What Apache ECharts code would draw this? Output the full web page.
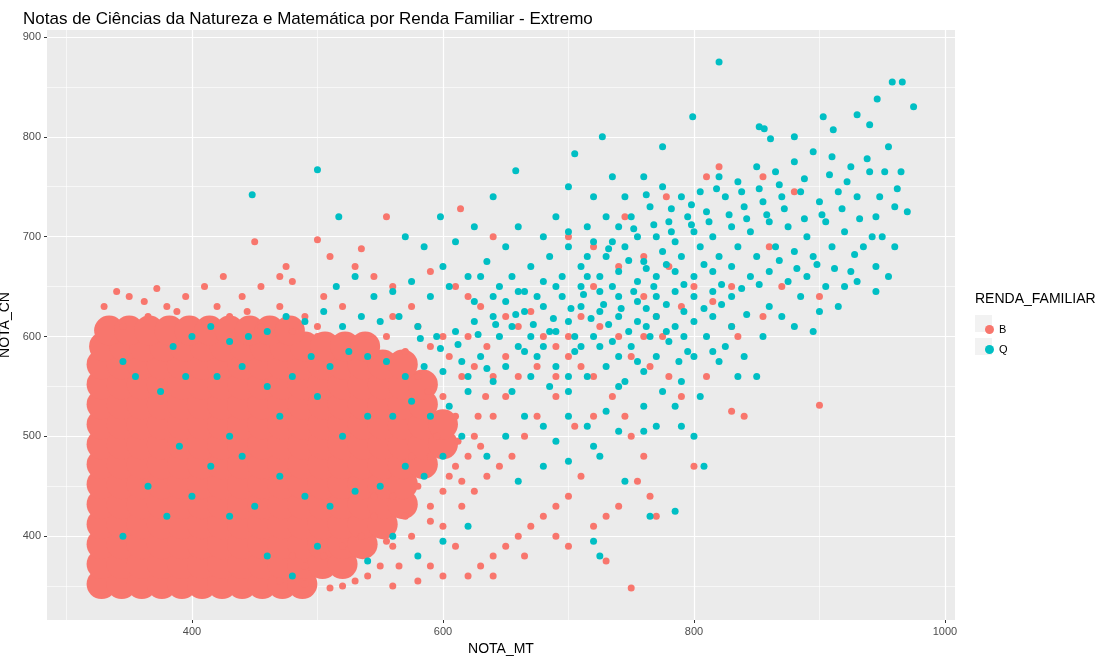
<!DOCTYPE html>
<html><head><meta charset="utf-8">
<script src="https://cdn.jsdelivr.net/npm/echarts@6/dist/echarts.min.js"></script>
<style>html,body{margin:0;padding:0;background:#fff}#c{width:1105px;height:663px}</style>
</head><body><div id="c"></div>
<script>
const xTicks=[400,600,800,1000];
const xMinor=[300,500,700,900];
const yTicks=[400,500,600,700,800,900];
const yMinor=[350,450,550,650,750,850];
// dense core of group B, rows of [NOTA_CN, NOTA_MT values...]
const bCoreRows=[
[352,328,344,360,376,392,408,424,440,456,472,488],
[372,328,344,360,376,392,408,424,440,456,472,488,504,520],
[392,328,344,360,376,392,408,424,440,456,472,488,504,520,536],
[412,328,344,360,376,392,408,424,440,456,472,488,504,520,536,552],
[432,328,344,360,376,392,408,424,440,456,472,488,504,520,536,552,568],
[452,328,344,360,376,392,408,424,440,456,472,488,504,520,536,552,568],
[472,328,344,360,376,392,408,424,440,456,472,488,504,520,536,552,568,584],
[492,328,344,360,376,392,408,424,440,456,472,488,504,520,536,552,568,584,600],
[512,328,344,360,376,392,408,424,440,456,472,488,504,520,536,552,568,584,600],
[532,328,344,360,376,392,408,424,440,456,472,488,504,520,536,552,568,584],
[552,328,344,360,376,392,408,424,440,456,472,488,504,520,536,552,568,584],
[572,328,344,360,376,392,408,424,440,456,472,488,504,520,536,552,568],
[590,330,346,362,378,394,410,426,442,458,474,490,506,522,538],
[606,334,350,366,382,398,414,430,446,462,478]
];
const bFringe=[[900,531],[450,695],[500,697],[555,720],[614,728],[535,688],[640,700],[700,700],[720,690],[745,720],[778,740],[810,760],[820,770],[855,760],[880,745],[720,650],[760,640],[790,630],[770,620],[830,650],[860,690],[870,650],[900,640],[855,620],[835,600],[810,560],[790,540],[830,525],[840,520],[800,470],[830,610],[560,650],[545,660],[530,670],[590,665],[610,650],[620,640],[630,630],[650,620],[660,610],[670,625],[680,600],[690,590],[700,580],[710,570],[720,560],[735,540],[745,520],[750,500],[760,480],[755,455],[765,440],[770,420],[740,430],[730,420],[720,410],[710,460],[700,440],[690,430],[680,420],[670,410],[660,400],[650,390],[640,380],[630,370],[620,360],[610,390],[600,410],[590,430],[580,450],[570,420],[560,390],[550,370],[540,360],[530,355],[520,350],[510,348],[490,352],[470,355],[750,348],[730,375],[700,390],[690,400],[720,520],[705,510],[690,540],[675,520],[665,500],[655,480],[645,470],[635,460],[625,445],[615,430],[605,460],[595,500],[610,520],[625,500],[640,520],[650,540],[660,560],[675,570],[690,560],[700,600],[710,620],[725,610],[740,600],[750,580],[765,570],[780,560],[760,600],[775,600],[740,670],[760,680],[780,670],[800,650],[815,635],[650,580],[635,590],[620,600],[600,600],[590,590],[580,610],[575,630],[560,620],[540,600],[520,630],[505,640],[490,620],[470,630],[455,650],[440,640],[425,660],[410,650],[395,640],[380,630],[365,620],[350,640],[340,645],[330,630],[345,610],[470,660],[480,655],[510,680],[475,670],[455,610],[430,620],[410,615],[580,560],[600,540],[615,560],[625,570],[640,560],[590,480],[575,480],[560,440],[545,420],[535,400],[520,390],[505,380],[490,370],[480,380],[600,360],[580,355],[560,350],[640,360],[665,380],[590,370],[610,470],[620,480],[630,490],[615,455],[600,445],[590,415],[575,400],[565,370],[555,395],[545,440],[612,495],[628,520],[634,540],[605,580],[588,545],[570,585],[555,600],[520,600],[500,610],[362,635],[372,648],[388,625],[420,630],[444,625],[500,600],[480,605]];
const qPoints=[[820,875],[958,855],[966,855],[946,838],[975,830],[500,767],[448,742],[517,720],[598,720],[705,783],[658,766],[640,740],[727,800],[775,790],[799,820],[852,810],[930,822],[940,812],[911,807],[903,820],[880,800],[861,798],[856,808],[760,760],[775,750],[790,740],[805,745],[820,760],[835,755],[850,770],[865,765],[880,775],[895,785],[910,780],[925,770],[940,765],[955,790],[965,765],[970,725],[960,730],[945,720],[930,740],[915,745],[900,735],[885,745],[870,740],[855,735],[840,730],[825,740],[810,725],[795,720],[780,715],[765,730],[750,720],[740,710],[755,700],[770,700],[785,695],[800,705],[815,700],[830,710],[845,705],[860,715],[875,710],[890,700],[905,715],[920,705],[935,690],[950,700],[960,690],[945,670],[925,665],[910,690],[895,680],[880,685],[865,690],[850,680],[835,690],[820,680],[805,690],[790,680],[775,685],[760,675],[745,690],[730,680],[720,695],[710,670],[725,660],[740,665],[755,655],[770,660],[785,665],[800,660],[815,665],[830,670],[845,660],[860,665],[875,655],[890,660],[905,650],[920,650],[830,640],[815,645],[800,640],[785,645],[770,640],[755,635],[740,640],[725,645],[710,650],[695,660],[680,655],[665,645],[650,635],[665,625],[680,630],[695,640],[710,630],[725,625],[740,620],[755,615],[770,620],[785,610],[800,615],[815,620],[830,610],[700,615],[685,605],[670,600],[655,610],[640,620],[625,615],[610,605],[595,600],[580,610],[565,620],[550,615],[535,620],[520,610],[505,625],[490,615],[475,620],[460,605],[445,600],[430,595],[415,610],[400,600],[385,590],[640,640],[625,635],[655,660],[670,670],[685,680],[700,690],[715,710],[730,720],[745,740],[700,705],[680,700],[660,710],[690,720],[720,740],[735,760],[700,750],[715,680],[735,695],[650,690],[635,675],[620,660],[605,650],[590,640],[575,655],[560,645],[545,640],[530,660],[515,650],[600,670],[585,690],[610,695],[625,710],[570,700],[645,600],[660,590],[675,580],[690,570],[705,585],[720,600],[735,595],[750,590],[765,600],[780,595],[795,585],[810,600],[825,590],[840,580],[850,560],[855,600],[860,630],[870,620],[885,640],[900,625],[915,630],[930,655],[945,645],[955,660],[880,610],[895,605],[630,580],[615,575],[600,565],[585,570],[570,560],[555,575],[540,580],[525,585],[510,570],[495,580],[480,560],[460,550],[440,570],[420,560],[395,560],[375,545],[355,560],[345,575],[620,545],[605,530],[590,520],[575,535],[560,520],[640,555],[655,545],[670,560],[685,550],[700,545],[715,560],[730,570],[745,555],[760,565],[775,545],[790,555],[805,540],[820,575],[835,560],[700,520],[715,510],[730,525],[740,550],[760,530],[785,530],[800,500],[770,510],[720,490],[725,480],[690,495],[680,510],[665,520],[650,500],[635,480],[615,500],[600,480],[585,460],[570,470],[550,450],[530,445],[510,430],[490,440],[470,460],[450,430],[430,420],[415,470],[400,440],[380,420],[365,450],[345,400],[700,475],[720,395],[725,380],[745,455],[765,420],[785,425],[808,470],[790,510],[760,505],[740,505],[660,455],[680,470],[620,410],[600,395],[580,380],[560,400],[540,375],[500,390],[480,360],[460,380],[430,500],[520,500],[540,520],[500,540],[470,520],[440,480],[390,490],
[732,688],[748,676],[762,668],[778,672],[792,652],[808,672],[822,652],[838,648],[852,652],[868,676],[882,668],[898,672],[912,668],[928,682],[942,700],[752,708],[768,712],[782,705],[798,712],[812,715],[828,722],[842,718],[858,722],[872,728],[888,718],[902,722],[918,728],[932,718],[948,740],[962,748],[762,742],[782,728],[798,732],[818,748],[838,745],[852,748],[868,752],[888,758],[908,762],[922,755],[938,778],[952,765],[712,642],[728,632],[742,628],[762,628],[778,632],[792,625],[808,628],[822,632],[842,622],[688,618],[702,628],[718,618],[732,612],[748,605],[762,610],[778,605],[792,600],[672,612],[658,622],[642,612],[628,602],[612,592],[598,588],[582,598],[690,650],[675,640],[660,645],[645,650],[630,660],[715,660],[735,650],[752,645],[768,650],[705,600],[690,605],[680,590],[665,585],[650,570],[635,568],[620,560],[700,560],[710,590],[725,590],[740,580],[755,575],[770,580],[788,575],[800,580],[815,585]];

const bCore=[];
bCoreRows.forEach(r=>{for(let i=1;i<r.length;i++)bCore.push([r[i],r[0]]);});
const ml=(axis,vals,w)=>vals.map(v=>({[axis]:v,lineStyle:{color:'#fff',width:w,type:'solid'}}));
const chart=echarts.init(document.getElementById('c'));
chart.setOption({
  animation:false,
  title:{text:'Notas de Ciências da Natureza e Matemática por Renda Familiar - Extremo',left:18,top:6,textStyle:{fontFamily:'Liberation Sans',fontSize:17,fontWeight:'normal',color:'#000'}},
  grid:{left:47,right:150,top:30,bottom:43,show:true,backgroundColor:'#EBEBEB',borderWidth:0,containLabel:false,outerBoundsMode:'none'},
  legend:{orient:'vertical',left:980,top:319,itemGap:9,itemWidth:9,itemHeight:9,icon:'circle',data:['B','Q'],textStyle:{fontFamily:'Liberation Sans',fontSize:11,color:'#000'}},
  xAxis:{type:'value',min:284.5,max:1008,name:'NOTA_MT',nameLocation:'middle',nameGap:21,nameTextStyle:{fontFamily:'Liberation Sans',fontSize:14,color:'#000'},
    splitLine:{show:false},axisLine:{show:false},
    axisTick:{show:true,length:3,lineStyle:{color:'#333'},customValues:xTicks},
    axisLabel:{customValues:xTicks,formatter:v=>String(v),color:'#4d4d4d',fontFamily:'Liberation Sans',fontSize:11,margin:6}},
  yAxis:{type:'value',min:316,max:907,name:'NOTA_CN',nameLocation:'middle',nameGap:33,nameTextStyle:{fontFamily:'Liberation Sans',fontSize:14,color:'#000'},
    splitLine:{show:false},axisLine:{show:false},
    axisTick:{show:true,length:3,lineStyle:{color:'#333'},customValues:yTicks},
    axisLabel:{customValues:yTicks,formatter:v=>String(v),color:'#4d4d4d',fontFamily:'Liberation Sans',fontSize:11,margin:6}},
  graphic:[
    {type:'text',left:975,top:292,style:{text:'RENDA_FAMILIAR',font:'14px Liberation Sans',fill:'#000'}},
    {type:'rect',shape:{x:975,y:315,width:17,height:17},style:{fill:'#F2F2F2'},z:-1},
    {type:'rect',shape:{x:975,y:338,width:17,height:17},style:{fill:'#F2F2F2'},z:-1}
  ],
  series:[
    {type:'scatter',name:'grid',data:[],silent:true,z:0,zlevel:0,markLine:{silent:true,symbol:'none',label:{show:false},animation:false,z:0,
      data:[...ml('xAxis',xMinor,0.6),...ml('xAxis',xTicks,1.2),...ml('yAxis',yMinor,0.6),...ml('yAxis',yTicks,1.2)]}},
    {type:'scatter',name:'B',data:bCore,symbolSize:30,itemStyle:{color:'#F8766D',opacity:1},z:2},
    {type:'scatter',name:'B',data:bFringe,symbolSize:7,itemStyle:{color:'#F8766D',opacity:1},z:3},
    {type:'scatter',name:'Q',data:qPoints,symbolSize:7,itemStyle:{color:'#00BFC4',opacity:1},z:4}
  ]
});
</script></body></html>
